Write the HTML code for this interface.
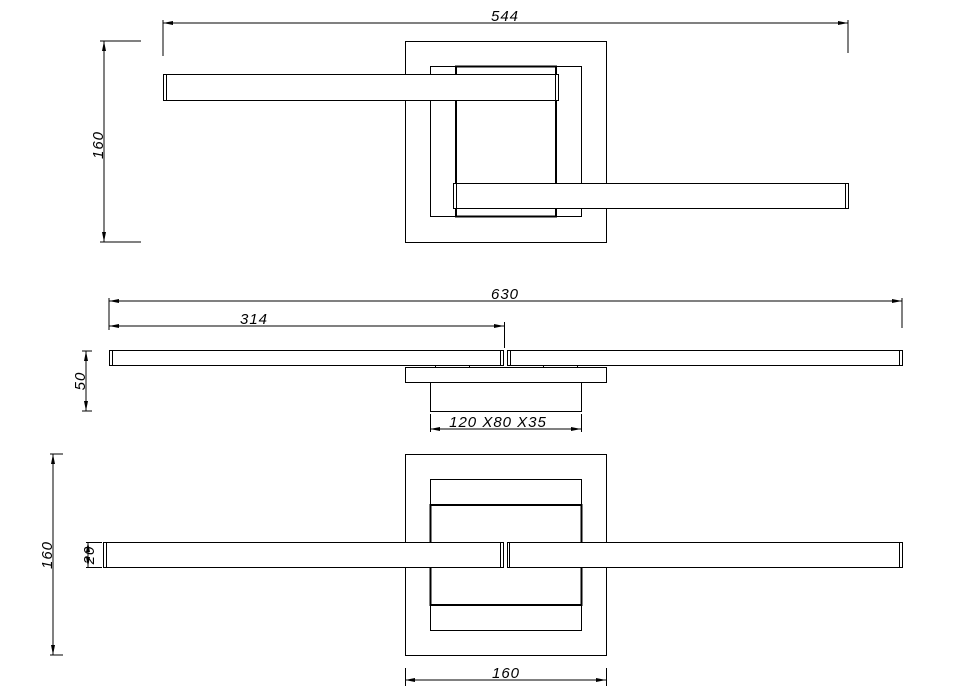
<!DOCTYPE html>
<html><head><style>html,body{margin:0;padding:0;background:#fff}svg{display:block}</style></head><body>
<svg width="963" height="699" viewBox="0 0 963 699" xmlns="http://www.w3.org/2000/svg">
<defs>
<marker id="a" viewBox="0 0 10 6" refX="10" refY="3" markerWidth="10" markerHeight="6" orient="auto-start-reverse" markerUnits="userSpaceOnUse"><path d="M0,1 L10,3 L0,5z" fill="#000"/></marker>
</defs>
<g fill="none" stroke="#000" stroke-width="1" font-family="Liberation Sans, sans-serif">
<line x1="163" y1="23" x2="848" y2="23" marker-start="url(#a)" marker-end="url(#a)"/>
<line x1="163" y1="20" x2="163" y2="56"/><line x1="848" y1="20" x2="848" y2="53"/>
<line x1="104" y1="41" x2="104" y2="242" marker-start="url(#a)" marker-end="url(#a)"/>
<line x1="100" y1="41" x2="141" y2="41"/><line x1="100" y1="242" x2="141" y2="242"/>
<rect x="405.5" y="41.5" width="201" height="201"/>
<rect x="430.5" y="66.5" width="151" height="150"/>
<rect x="456" y="66.5" width="100" height="150" stroke-width="2"/>
<rect x="163.5" y="74.5" width="395" height="26" fill="#fff"/>
<line x1="166.5" y1="74" x2="166.5" y2="100"/><line x1="555.5" y1="74" x2="555.5" y2="100"/>
<rect x="453.5" y="183.5" width="395" height="25" fill="#fff"/>
<line x1="456.5" y1="183" x2="456.5" y2="208"/><line x1="845.5" y1="183" x2="845.5" y2="208"/>
<line x1="109" y1="301" x2="902" y2="301" marker-start="url(#a)" marker-end="url(#a)"/>
<line x1="109" y1="298" x2="109" y2="330"/><line x1="902" y1="298" x2="902" y2="328"/>
<line x1="109" y1="326" x2="504" y2="326" marker-start="url(#a)" marker-end="url(#a)"/>
<line x1="504.5" y1="322" x2="504.5" y2="348"/>
<rect x="109.5" y="350.5" width="394" height="15" fill="#fff"/>
<line x1="112.5" y1="350" x2="112.5" y2="365"/><line x1="500.5" y1="350" x2="500.5" y2="365"/>
<rect x="507.5" y="350.5" width="395" height="15" fill="#fff"/>
<line x1="510.5" y1="350" x2="510.5" y2="365"/><line x1="899.5" y1="350" x2="899.5" y2="365"/>
<rect x="435.5" y="365.5" width="34" height="2"/><rect x="543.5" y="365.5" width="34" height="2"/>
<rect x="405.5" y="367.5" width="201" height="15"/>
<rect x="430.5" y="382.5" width="151" height="29"/>
<line x1="430" y1="429" x2="581" y2="429" marker-start="url(#a)" marker-end="url(#a)"/>
<line x1="430.5" y1="414" x2="430.5" y2="432"/><line x1="581.5" y1="414" x2="581.5" y2="432"/>
<line x1="86" y1="351" x2="86" y2="411" marker-start="url(#a)" marker-end="url(#a)"/>
<line x1="82" y1="351" x2="92" y2="351"/><line x1="82" y1="411" x2="92" y2="411"/>
<rect x="405.5" y="454.5" width="201" height="201"/>
<rect x="430.5" y="479.5" width="151" height="151"/>
<rect x="430.5" y="505" width="151" height="100" stroke-width="2"/>
<rect x="103.5" y="542.5" width="400" height="25" fill="#fff"/>
<line x1="106.5" y1="542" x2="106.5" y2="567"/><line x1="500.5" y1="542" x2="500.5" y2="567"/>
<rect x="507.5" y="542.5" width="395" height="25" fill="#fff"/>
<line x1="509.5" y1="542" x2="509.5" y2="567"/><line x1="899.5" y1="542" x2="899.5" y2="567"/>
<line x1="53" y1="454" x2="53" y2="655" marker-start="url(#a)" marker-end="url(#a)"/>
<line x1="50" y1="454" x2="63" y2="454"/><line x1="50" y1="655" x2="63" y2="655"/>
<line x1="88" y1="542" x2="88" y2="567" marker-start="url(#a)" marker-end="url(#a)"/>
<line x1="86" y1="542.5" x2="102" y2="542.5"/><line x1="86" y1="567.5" x2="102" y2="567.5"/>
<line x1="405" y1="680" x2="606" y2="680" marker-start="url(#a)" marker-end="url(#a)"/>
<line x1="405.5" y1="668" x2="405.5" y2="686"/><line x1="606.5" y1="668" x2="606.5" y2="686"/>
</g>
<g font-family="Liberation Sans, sans-serif" font-style="italic" font-size="15" letter-spacing="1" fill="#000" text-anchor="middle">
<text x="505" y="21">544</text>
<text transform="translate(103,145) rotate(-90)">160</text>
<text x="505" y="299">630</text>
<text x="254" y="324">314</text>
<text transform="translate(85,381) rotate(-90)">50</text>
<text x="498" y="427">120 X80 X35</text>
<text transform="translate(52,555) rotate(-90)">160</text>
<text transform="translate(94,555) rotate(-90)">20</text>
<text x="506" y="678">160</text>
</g>
</svg>
</body></html>
